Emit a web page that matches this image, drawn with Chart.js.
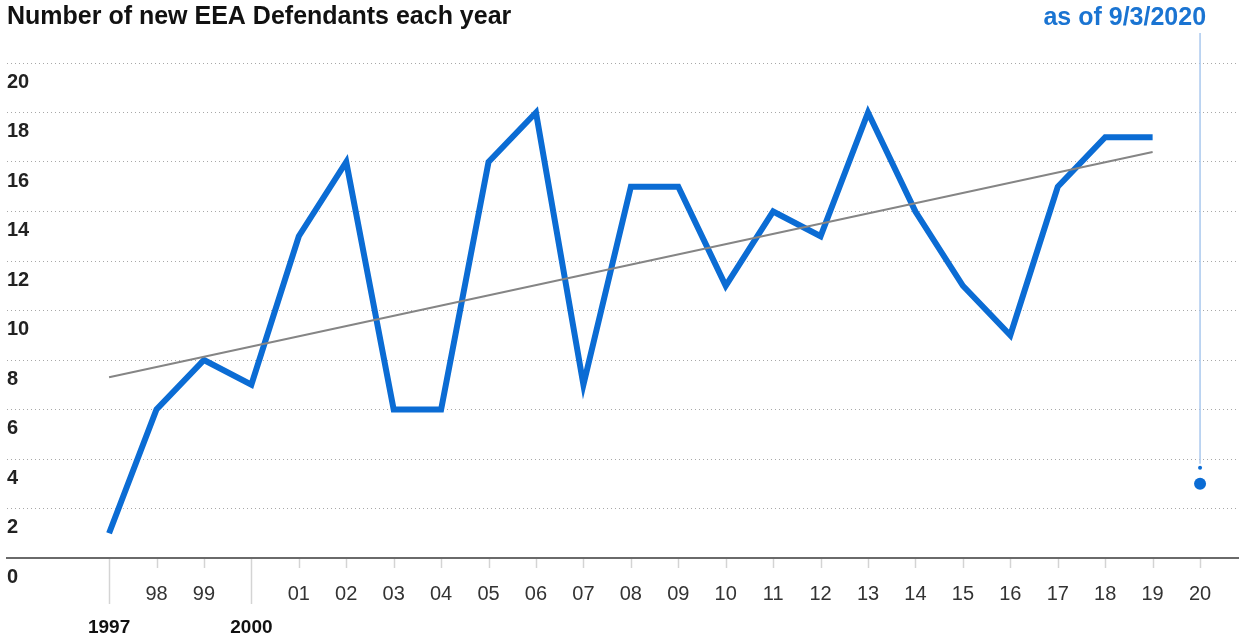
<!DOCTYPE html>
<html>
<head>
<meta charset="utf-8">
<script src="https://cdn.jsdelivr.net/npm/chart.js@4.4.1/dist/chart.umd.min.js"></script>
<style>
  body { margin: 0; background: #fff; }
  #wrap { width: 1244px; height: 636px; position: relative; }
</style>
</head>
<body>
<div id="wrap"><canvas id="eea-chart"></canvas></div>
<script>
'use strict';

// years on the x axis and new defendants per year
var years = [1997, 1998, 1999, 2000, 2001, 2002, 2003, 2004, 2005, 2006, 2007, 2008,
  2009, 2010, 2011, 2012, 2013, 2014, 2015, 2016, 2017, 2018, 2019, 2020];
var yearLabels = ['1997', '98', '99', '2000', '01', '02', '03', '04', '05', '06', '07', '08',
  '09', '10', '11', '12', '13', '14', '15', '16', '17', '18', '19', '20'];
var defendants = [1, 6, 8, 7, 13, 16, 6, 6, 16, 18, 7, 15, 15, 11, 14, 13, 18, 14, 11, 9, 15, 17, 17, 3];
// trend line end points (1997 and 2019)
var trendYears = [1997, 2019];
var trendValues = [7.3, 16.4];
var yTicks = [0, 2, 4, 6, 8, 10, 12, 14, 16, 18, 20];
var partialYear = 2020;
var partialNote = 'as of 9/3/2020';

var blue = '#0b6cd4';
var fontFam = '"Liberation Sans", Arial, Helvetica, sans-serif';

var fullYears = [];
var partial = [];
for (var i = 0; i < years.length; i++) {
  if (years[i] === partialYear) {
    partial.push({ x: years[i], y: defendants[i] });
  } else {
    fullYears.push({ x: years[i], y: defendants[i] });
  }
}
var trend = [];
for (var j = 0; j < trendYears.length; j++) {
  trend.push({ x: trendYears[j], y: trendValues[j] });
}

// years that get the long tick and the bold label underneath
function isBigYear(label) {
  return label.length === 4;
}

var extras = {
  id: 'extras',
  afterDraw: function (chart) {
    var ctx = chart.ctx;
    var xs = chart.scales.x;
    var ys = chart.scales.y;
    var base = ys.getPixelForValue(0);
    ctx.save();
    // tick marks below the baseline
    ctx.strokeStyle = '#d4d4d4';
    ctx.lineWidth = 1.5;
    for (var i = 0; i < years.length; i++) {
      var px = Math.round(xs.getPixelForValue(years[i])) + 0.5;
      ctx.beginPath();
      ctx.moveTo(px, base + 1);
      ctx.lineTo(px, base + (isBigYear(yearLabels[i]) ? 46 : 10));
      ctx.stroke();
    }
    // marker line for the partial year
    var pxp = xs.getPixelForValue(partialYear);
    var val = partial[0].y;
    ctx.strokeStyle = '#a9c8ee';
    ctx.lineWidth = 1.5;
    ctx.beginPath();
    ctx.moveTo(pxp, 33);
    ctx.lineTo(pxp, ys.getPixelForValue(val) - 20);
    ctx.stroke();
    ctx.fillStyle = blue;
    ctx.beginPath();
    ctx.arc(pxp, ys.getPixelForValue(val) - 16, 2, 0, Math.PI * 2);
    ctx.fill();
    // note at the top right
    ctx.font = 'bold 25px ' + fontFam;
    ctx.fillStyle = '#1a74d2';
    ctx.textAlign = 'right';
    ctx.textBaseline = 'middle';
    ctx.fillText(partialNote, pxp + 6, 18);
    ctx.restore();
  }
};

var ctx = document.getElementById('eea-chart').getContext('2d');
var chart = new Chart(ctx, {
  type: 'line',
  data: {
    datasets: [{
      label: 'New EEA defendants',
      data: fullYears,
      borderColor: blue,
      borderWidth: 6,
      pointRadius: 0,
      tension: 0,
      borderJoinStyle: 'miter',
      order: 2
    }, {
      label: 'Trend',
      data: trend,
      borderColor: '#858585',
      borderWidth: 2,
      pointRadius: 0,
      order: 1
    }, {
      label: 'Partial year',
      data: partial,
      showLine: false,
      pointRadius: 6,
      pointBackgroundColor: blue,
      pointBorderWidth: 0,
      order: 3
    }]
  },
  options: {
    responsive: true,
    maintainAspectRatio: false,
    animation: false,
    layout: { padding: { left: 7, right: 0, top: 0, bottom: 0 } },
    plugins: {
      legend: { display: false },
      tooltip: { enabled: false },
      title: {
        display: true,
        text: 'Number of new EEA Defendants each year',
        align: 'start',
        color: '#111',
        font: { family: fontFam, size: 25, weight: 'bold', lineHeight: 1.2 },
        padding: { top: 2, bottom: 31 }
      }
    },
    scales: {
      x: {
        type: 'linear',
        min: 1994.848,
        max: 2020.8,
        afterBuildTicks: function (scale) {
          scale.ticks = years.map(function (y) { return { value: y }; });
        },
        afterFit: function (scale) {
          scale.height = 78;
        },
        grid: { display: false },
        border: { display: true, color: '#6a6a6a', width: 2 },
        ticks: {
          padding: 11,
          autoSkip: false,
          maxRotation: 0,
          callback: function (value) {
            var k = years.indexOf(value);
            if (k < 0) return '';
            return isBigYear(yearLabels[k]) ? ['', yearLabels[k]] : yearLabels[k];
          },
          color: function (c) {
            var lab = yearLabels[c.index] || '';
            return isBigYear(lab) ? '#111' : '#333';
          },
          font: function (c) {
            var lab = yearLabels[c.index] || '';
            return {
              family: fontFam,
              size: isBigYear(lab) ? 19 : 20,
              weight: isBigYear(lab) ? 'bold' : 'normal',
              lineHeight: isBigYear(lab) ? 34 / 19 : 34 / 20
            };
          }
        }
      },
      y: {
        min: 0,
        max: 20,
        afterBuildTicks: function (scale) {
          scale.ticks = yTicks.map(function (v) { return { value: v }; });
        },
        border: { display: false, dash: [1, 3] },
        grid: {
          drawTicks: false,
          color: function (c) {
            return c.tick && c.tick.value === 0 ? 'rgba(0,0,0,0)' : '#a8a8a8';
          },
          lineWidth: 1
        },
        ticks: {
          mirror: true,
          padding: 0,
          labelOffset: 19,
          color: '#222',
          font: { family: fontFam, size: 20, weight: 'bold' }
        }
      }
    }
  },
  plugins: [extras]
});
</script>
</body>
</html>
